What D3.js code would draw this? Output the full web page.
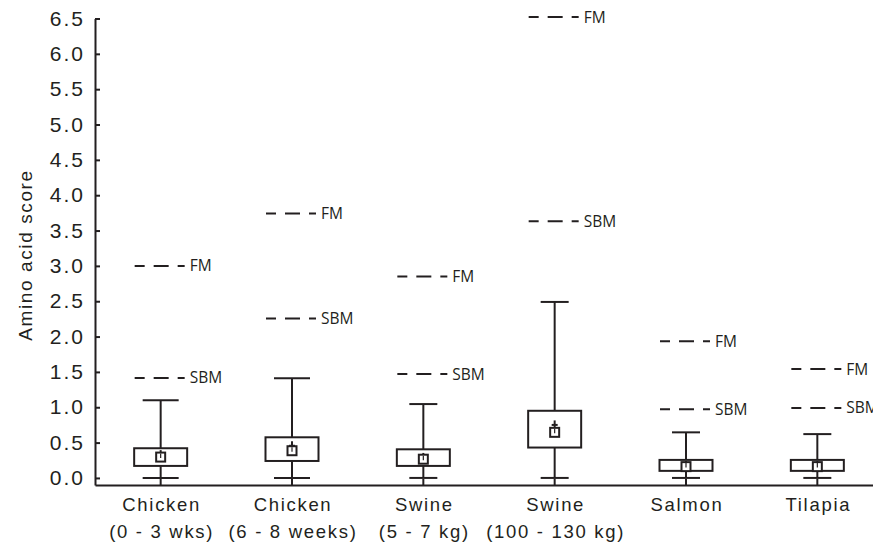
<!DOCTYPE html>
<html>
<head>
<meta charset="utf-8">
<script src="https://cdn.jsdelivr.net/npm/d3@7"></script>
<style>
  body { margin: 0; background: #fff; }
  .axis path, .axis line { stroke: #231f20; stroke-width: 2; }
  .axis text { font-family: "Liberation Sans", Arial, sans-serif; font-size: 21px; letter-spacing: 2px; fill: #231f20; }
</style>
</head>
<body>
<script>
// categories (two-line labels)
var groups = ["Chicken", "Chicken", "Swine", "Swine", "Salmon", "Tilapia"];
var subLabels = ["(0 - 3 wks)", "(6 - 8 weeks)", "(5 - 7 kg)", "(100 - 130 kg)", "", ""];
// box plot values
var whiskerLow = [0, 0, 0, 0, 0, 0];
var q1 = [0.17, 0.24, 0.17, 0.43, 0.10, 0.10];
var q3 = [0.42, 0.575, 0.405, 0.95, 0.255, 0.255];
var whiskerHigh = [1.10, 1.41, 1.045, 2.49, 0.645, 0.62];
var mean = [0.295, 0.385, 0.265, 0.645, 0.16, 0.16];
var median = [0.33, 0.455, 0.29, 0.75, 0.175, 0.175];
// reference levels
var fmScore = [3.0, 3.74, 2.85, 6.52, 1.935, 1.54];
var sbmScore = [1.415, 2.255, 1.47, 3.63, 0.97, 0.99];
var yTicks = [0, 0.5, 1, 1.5, 2, 2.5, 3, 3.5, 4, 4.5, 5, 5.5, 6, 6.5];

var ink = "#231f20";

// set the dimensions and margins of the graph
var margin = { top: 18.5, right: 0, bottom: 60, left: 95 },
    width = 873 - margin.left - margin.right,
    height = 545 - margin.top - margin.bottom;

var data = groups.map(function (g, i) {
    return {
        id: i, group: g, sub: subLabels[i],
        lo: whiskerLow[i], q1: q1[i], q3: q3[i], hi: whiskerHigh[i],
        mean: mean[i], median: median[i], fm: fmScore[i], sbm: sbmScore[i]
    };
});

var x = d3.scaleBand()
    .domain(data.map(function (d) { return d.id; }))
    .range([0, 788]);

var y = d3.scaleLinear()
    .domain([-0.1, 6.5])
    .range([height, 0]);

var svg = d3.select("body")
    .append("svg")
    .attr("width", 873)
    .attr("height", 545)
    .append("g")
    .attr("transform", "translate(" + margin.left + "," + margin.top + ")");

function cx(d) { return x(d.id) + x.bandwidth() / 2; }

// Y axis
svg.append("g")
    .attr("class", "axis")
    .call(d3.axisLeft(y).tickValues(yTicks).tickSize(-5).tickSizeOuter(0)
        .tickPadding(10).tickFormat(d3.format(".1f")));

// X axis
var xAxis = svg.append("g")
    .attr("class", "axis")
    .attr("transform", "translate(0," + height + ")")
    .call(d3.axisBottom(x).tickSize(-6).tickSizeOuter(0).tickFormat(""));

// category labels
var lab = svg.append("g")
    .attr("font-family", "'Liberation Sans', Arial, sans-serif")
    .attr("font-size", "18.5px")
    .attr("letter-spacing", "1.7px")
    .attr("fill", ink)
    .attr("text-anchor", "middle");
data.forEach(function (d) {
    var t = lab.append("text").attr("x", cx(d) + 1).attr("y", height + 26);
    t.append("tspan").attr("x", cx(d) + 1).text(d.group);
    if (d.sub) t.append("tspan").attr("x", cx(d) + 1).attr("dy", 27).text(d.sub);
});

// y title
svg.append("text")
    .attr("transform", "rotate(-90)")
    .attr("x", -(255 - margin.top))
    .attr("y", 32 - margin.left)
    .attr("text-anchor", "middle")
    .attr("font-family", "'Liberation Sans', Arial, sans-serif")
    .attr("font-size", "19px")
    .attr("letter-spacing", "1.6px")
    .attr("fill", ink)
    .text("Amino acid score");

// reference dashed lines (FM, SBM)
var refs = [];
data.forEach(function (d) {
    refs.push({ d: d, v: d.fm, name: "FM" });
    refs.push({ d: d, v: d.sbm, name: "SBM" });
});
var rg = svg.append("g");
rg.selectAll("line").data(refs).enter().append("line")
    .attr("x1", function (r) { return cx(r.d) - 26; })
    .attr("x2", function (r) { return cx(r.d) + 24; })
    .attr("y1", function (r) { return y(r.v); })
    .attr("y2", function (r) { return y(r.v); })
    .attr("stroke", ink)
    .attr("stroke-width", 2)
    .attr("stroke-dasharray", "15,9")
    .attr("stroke-dashoffset", 5);
rg.selectAll("text").data(refs).enter().append("text")
    .attr("x", function (r) { return cx(r.d) + 29; })
    .attr("y", function (r) { return y(r.v) + 5.5; })
    .attr("font-family", "'Open Sans', sans-serif")
    .attr("font-size", "15.5px")
    .attr("fill", ink)
    .text(function (r) { return r.name; });

// boxes
var boxW = 53;
var bx = svg.append("g").selectAll("g").data(data).enter().append("g")
    .attr("stroke", ink)
    .attr("stroke-width", 2)
    .attr("fill", "none");

function capW(d) { return d.group === "Chicken" ? 36 : 28; }

// whiskers
bx.append("line")
    .attr("x1", cx).attr("x2", cx)
    .attr("y1", function (d) { return y(d.hi); })
    .attr("y2", function (d) { return y(d.q3); });
bx.append("line")
    .attr("x1", cx).attr("x2", cx)
    .attr("y1", function (d) { return y(d.q1); })
    .attr("y2", function (d) { return y(d.lo); });
bx.append("line")
    .attr("x1", function (d) { return cx(d) - capW(d) / 2; })
    .attr("x2", function (d) { return cx(d) + capW(d) / 2; })
    .attr("y1", function (d) { return y(d.hi); })
    .attr("y2", function (d) { return y(d.hi); });
bx.append("line")
    .attr("x1", function (d) { return cx(d) - capW(d) / 2; })
    .attr("x2", function (d) { return cx(d) + capW(d) / 2; })
    .attr("y1", function (d) { return y(d.lo); })
    .attr("y2", function (d) { return y(d.lo); });
bx.append("rect")
    .attr("x", function (d) { return cx(d) - boxW / 2; })
    .attr("width", boxW)
    .attr("y", function (d) { return y(d.q3); })
    .attr("height", function (d) { return y(d.q1) - y(d.q3); })
    .attr("fill", "#fff");
// median cross
bx.append("line")
    .attr("x1", cx).attr("x2", cx)
    .attr("y1", function (d) { return y(d.median) - 4.5; })
    .attr("y2", function (d) { return y(d.median) + 4.5; });
bx.append("line")
    .attr("x1", function (d) { return cx(d) - 3; })
    .attr("x2", function (d) { return cx(d) + 3; })
    .attr("y1", function (d) { return y(d.median); })
    .attr("y2", function (d) { return y(d.median); });
// mean square
bx.append("rect")
    .attr("x", function (d) { return cx(d) - 4.5; })
    .attr("y", function (d) { return y(d.mean) - 4.5; })
    .attr("width", 9)
    .attr("height", 9)
    .attr("fill", "#fff");
bx.append("line")
    .attr("x1", cx).attr("x2", cx)
    .attr("y1", function (d) { return y(d.mean) - 3.5; })
    .attr("y2", function (d) { return y(d.mean) + 1; })
    .attr("stroke-width", 1.2);
</script>
</body>
</html>
